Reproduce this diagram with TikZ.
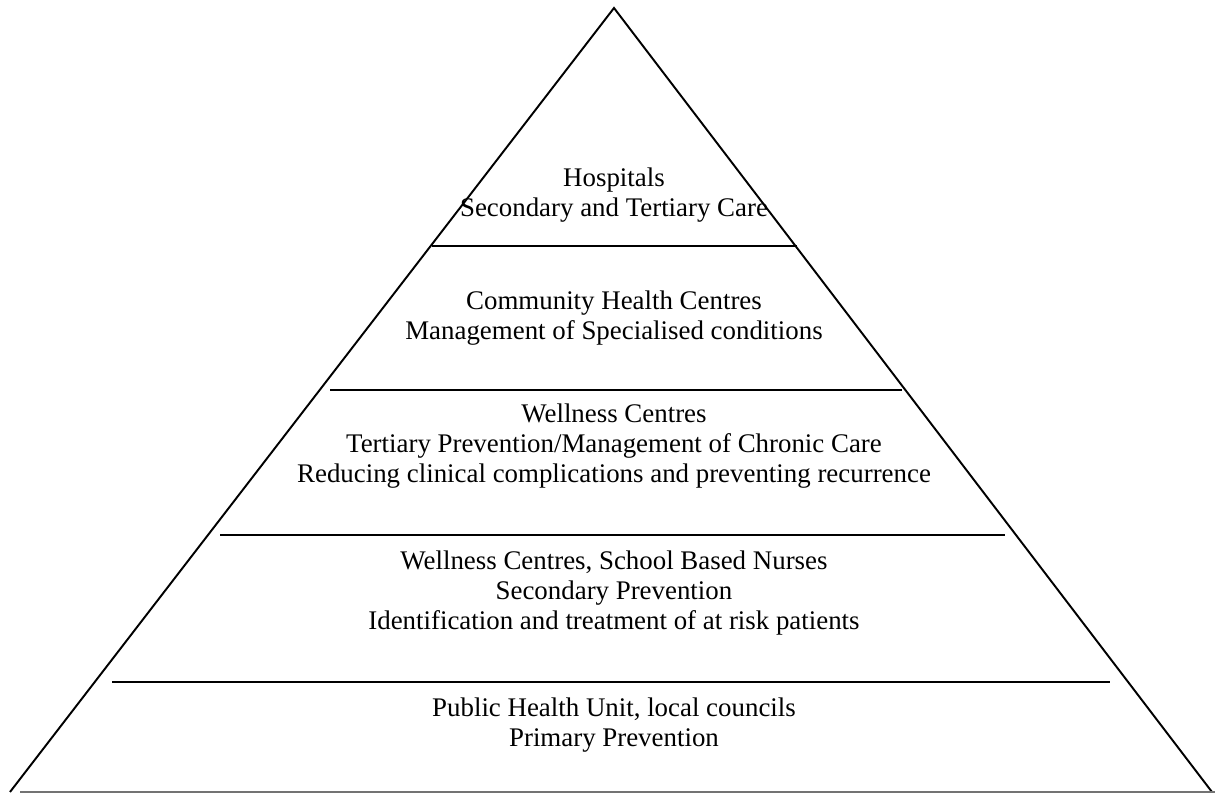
\documentclass[tikz,border=0pt]{standalone}
\usepackage{fontspec}
\setmainfont{Liberation Serif}
\begin{document}
\begin{tikzpicture}[x=0.02cm,y=-0.02cm,
    tier/.style={align=center,font=\fontsize{15.3}{17}\selectfont},
    edge/.style={line width=1.1pt},
    divider/.style={line width=1.5pt}]
            \useasboundingbox (0,0) rectangle (1218,793);
            % outline of the pyramid
            \coordinate (apex) at (614,8);
            \coordinate (bl) at (10,792);
            \coordinate (br) at (1212,792);
            \draw[edge] (bl) -- (apex) -- (br);
            \draw[line width=1.2pt,black!55] (20,792) -- (1215,792);
            % dividers between the levels
            \draw[divider] (432,246) -- (797,246);
            \draw[divider] (330,390) -- (902,390);
            \draw[divider] (220,535) -- (1005,535);
            \draw[divider] (112,682) -- (1110,682);
            % level texts
            \node[tier] (hosp) at (614,195) {Hospitals\\Secondary and Tertiary Care};
            \node[tier] (chc) at (614,318) {Community Health Centres\\Management of Specialised conditions};
            \node[tier] (well) at (614,446) {Wellness Centres\\Tertiary Prevention/Management of Chronic Care\\Reducing clinical complications and preventing recurrence};
            \node[tier] (school) at (614,593) {Wellness Centres, School Based Nurses\\Secondary Prevention\\Identification and treatment of at risk patients};
            \node[tier] (public) at (614,725) {Public Health Unit, local councils\\Primary Prevention};
        \end{tikzpicture}
\end{document}
